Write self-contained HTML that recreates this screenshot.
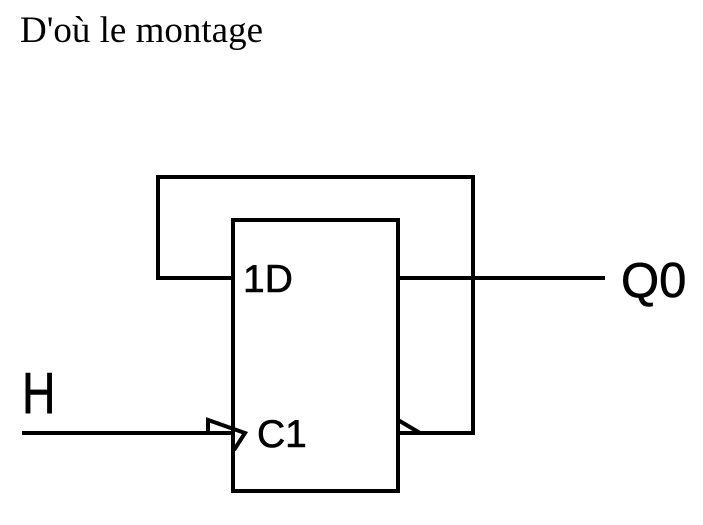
<!DOCTYPE html>
<html><head><meta charset="utf-8"><style>html,body{margin:0;padding:0;background:#fff;width:703px;height:525px;overflow:hidden}</style></head>
<body>
<svg width="703" height="525" xmlns="http://www.w3.org/2000/svg">
<text x="20" y="42" font-family="Liberation Serif, serif" font-size="37" fill="#000">D'où le montage</text>
<g fill="none" stroke="#000" stroke-width="4">
<rect x="233" y="220" width="165" height="271"/>
<polyline points="233,278 158,278 158,177 473,177 473,433 398,433"/>
<line x1="398" y1="278" x2="605" y2="278"/>
<line x1="22" y1="433" x2="233" y2="433"/>
<polyline points="208,433 208,420 245,433 234,450"/>
<polyline points="398,420 420,433"/>
</g>
<g font-family="Liberation Sans, sans-serif" fill="#000" stroke="#000" stroke-width="0.6">
<text x="243" y="292" font-size="39">1D</text>
<text x="257" y="447" font-size="39">C1</text>
<text x="621" y="297" font-size="49">Q0</text>
<text transform="translate(22,413) scale(0.8,1)" font-size="58">H</text>
</g>
</svg>
</body></html>
